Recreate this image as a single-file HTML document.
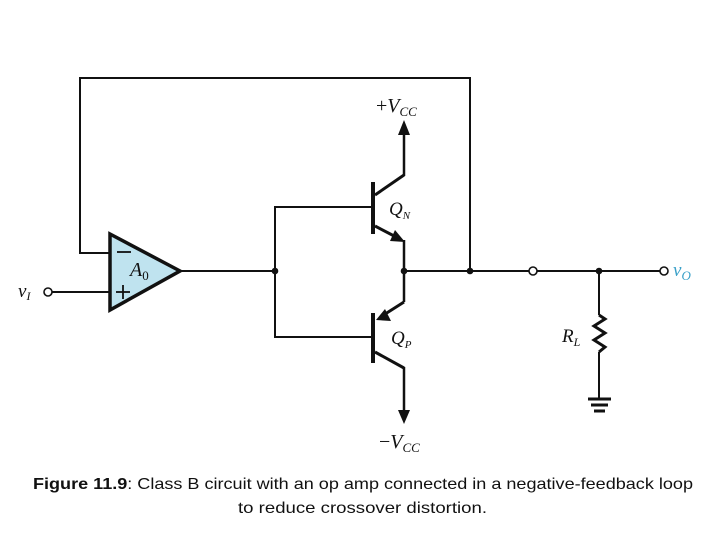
<!DOCTYPE html>
<html><head><meta charset="utf-8"><style>
html,body{margin:0;padding:0;background:#fff;width:720px;height:540px;overflow:hidden}
</style></head><body>
<svg width="720" height="540" viewBox="0 0 720 540" xmlns="http://www.w3.org/2000/svg">
<g stroke="#111" stroke-width="2" fill="none">
<polyline points="110,253 80,253 80,78 470,78 470,271"/>
<line x1="52" y1="292" x2="110" y2="292"/>
<circle cx="48" cy="292" r="4" stroke-width="1.6" fill="#fff"/>
<line x1="180" y1="271" x2="275" y2="271"/>
<polyline points="372,207 275,207 275,337 372,337"/>
<line x1="373" y1="182" x2="373" y2="234" stroke-width="4"/>
<polyline points="375,195 404,175" stroke-width="3"/>
<line x1="404" y1="176" x2="404" y2="133" stroke-width="2.5"/>
<polyline points="375,226 398,238" stroke-width="3"/>
<line x1="404" y1="240" x2="404" y2="271" stroke-width="2.5"/>
<line x1="373" y1="313" x2="373" y2="363" stroke-width="4"/>
<line x1="404" y1="271" x2="404" y2="302" stroke-width="2.5"/>
<polyline points="404,302 382,316" stroke-width="3"/>
<polyline points="375,352 404,368" stroke-width="3"/>
<line x1="404" y1="367" x2="404" y2="412" stroke-width="2.5"/>
<line x1="404" y1="271" x2="529" y2="271"/>
<line x1="537" y1="271" x2="660" y2="271"/>
<circle cx="533" cy="271" r="4" stroke-width="1.6" fill="#fff"/>
<circle cx="664" cy="271" r="4" stroke-width="1.6" fill="#fff"/>
<line x1="599" y1="271" x2="599" y2="315"/>
<polyline points="599,315 605,319 594,326 605,333 594,340 605,347 599,352" stroke-width="3"/>
<line x1="599" y1="352" x2="599" y2="398"/>
<line x1="588" y1="399" x2="611" y2="399" stroke-width="3"/>
<line x1="591" y1="405" x2="608" y2="405" stroke-width="3"/>
<line x1="594" y1="411" x2="605" y2="411" stroke-width="3"/>
</g>
<polygon points="110,234 180,271 110,310" fill="#bfe3ef" stroke="#111" stroke-width="3.5" stroke-linejoin="miter"/>
<line x1="117" y1="252" x2="131" y2="252" stroke="#111" stroke-width="1.8"/>
<line x1="116" y1="292" x2="130" y2="292" stroke="#111" stroke-width="1.8"/>
<line x1="123" y1="285" x2="123" y2="299" stroke="#111" stroke-width="1.8"/>
<text x="130" y="276" font-family="Liberation Serif,serif" font-style="italic" font-size="20" fill="#111">A<tspan font-style="normal" font-size="13" dy="4">0</tspan></text>
<g fill="#111">
<polygon points="404,120 398,135 410,135"/>
<polygon points="404,424 398,410 410,410"/>
<polygon points="405,242 390,241 395,230"/>
<polygon points="376,320 385,309 391,321"/>
<circle cx="275" cy="271" r="3.3"/><circle cx="404" cy="271" r="3.3"/>
<circle cx="470" cy="271" r="3.3"/><circle cx="599" cy="271" r="3.3"/>
</g>
<g font-family="Liberation Serif,serif" fill="#111" font-style="italic">
<text x="376" y="112" font-size="20"><tspan font-style="normal">+</tspan>V<tspan font-size="13" dy="4">CC</tspan></text>
<text x="379" y="448" font-size="20"><tspan font-style="normal">−</tspan>V<tspan font-size="13" dy="4">CC</tspan></text>
<text x="389" y="215" font-size="19">Q<tspan font-size="11" dy="4">N</tspan></text>
<text x="391" y="344" font-size="19">Q<tspan font-size="11" dy="4">P</tspan></text>
<text x="562" y="342" font-size="19">R<tspan font-size="12" dy="4">L</tspan></text>
<text x="18" y="297" font-size="19">v<tspan font-size="12" dy="3">I</tspan></text>
<text x="673" y="276" font-size="19" fill="#3aa0c8">v<tspan font-size="13" dy="4">O</tspan></text>
</g>
<g font-family="Liberation Sans,sans-serif" font-size="16" fill="#111">
<text x="33" y="489" textLength="660" lengthAdjust="spacingAndGlyphs"><tspan font-weight="bold">Figure 11.9</tspan>: Class B circuit with an op amp connected in a negative-feedback loop</text>
<text x="238" y="513" textLength="249" lengthAdjust="spacingAndGlyphs">to reduce crossover distortion.</text>
</g>
</svg>
</body></html>
